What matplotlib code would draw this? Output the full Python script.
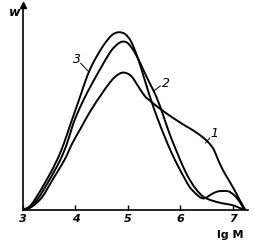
import matplotlib
matplotlib.use("Agg")
import matplotlib.pyplot as plt
from matplotlib.path import Path
from matplotlib.patches import PathPatch

# molecular weight distributions, w vs lg M (w in arbitrary units)
lgm_1 = [3.00, 3.16, 3.36, 3.58, 3.79, 3.94, 4.10, 4.29, 4.50, 4.67, 4.80, 4.92,
         5.06, 5.20, 5.32, 5.44, 5.66, 5.89, 6.10, 6.28, 6.45, 6.56, 6.64, 6.72,
         6.81, 6.92, 7.03, 7.13, 7.24]
w_1 = [0.00, 0.09, 0.38, 0.95, 1.50, 2.00, 2.45, 2.98, 3.48, 3.85, 4.05, 4.12,
       4.02, 3.70, 3.42, 3.25, 2.98, 2.73, 2.52, 2.35, 2.15, 1.98, 1.80, 1.50,
       1.20, 0.90, 0.60, 0.30, 0.00]

lgm_2 = [3.00, 3.14, 3.29, 3.51, 3.71, 3.84, 3.93, 4.01, 4.16, 4.32, 4.48, 4.67,
         4.80, 4.90, 5.00, 5.12, 5.25, 5.40, 5.54, 5.67, 5.79, 5.93, 6.08, 6.20,
         6.31, 6.42, 6.52, 6.65, 6.80, 6.98, 7.10, 7.22]
w_2 = [0.00, 0.10, 0.35, 0.92, 1.50, 2.00, 2.45, 2.80, 3.32, 3.80, 4.25, 4.75,
       4.97, 5.05, 5.00, 4.75, 4.35, 3.85, 3.40, 2.85, 2.30, 1.75, 1.20, 0.85,
       0.60, 0.42, 0.33, 0.26, 0.20, 0.15, 0.08, 0.00]

lgm_3 = [3.00, 3.12, 3.23, 3.45, 3.65, 3.78, 3.90, 4.00, 4.10, 4.22, 4.35, 4.54,
         4.70, 4.83, 4.95, 5.06, 5.19, 5.31, 5.44, 5.57, 5.70, 5.83, 5.96, 6.08,
         6.18, 6.30, 6.40, 6.48, 6.58, 6.70, 6.82, 6.93, 7.04, 7.14, 7.22]
w_3 = [0.00, 0.10, 0.32, 0.90, 1.50, 2.00, 2.55, 3.00, 3.45, 4.00, 4.45, 4.95,
       5.25, 5.33, 5.27, 5.05, 4.55, 3.95, 3.30, 2.72, 2.20, 1.72, 1.30, 0.95,
       0.68, 0.48, 0.36, 0.36, 0.46, 0.55, 0.57, 0.55, 0.42, 0.22, 0.00]

x_ticks = [3, 4, 5, 6, 7]


def smooth_path(xs, ys):
    # cubic bezier through every data point (catmull-rom style tangents)
    pts = list(zip(xs, ys))
    verts = [pts[0]]
    codes = [Path.MOVETO]
    n = len(pts)
    for i in range(n - 1):
        p0 = pts[i - 1] if i > 0 else pts[i]
        p1 = pts[i]
        p2 = pts[i + 1]
        p3 = pts[i + 2] if i + 2 < n else pts[i + 1]
        c1 = (p1[0] + (p2[0] - p0[0]) / 6, p1[1] + (p2[1] - p0[1]) / 6)
        c2 = (p2[0] - (p3[0] - p1[0]) / 6, p2[1] - (p3[1] - p1[1]) / 6)
        verts += [c1, c2, p2]
        codes += [Path.CURVE4] * 3
    return Path(verts, codes)


fig = plt.figure(figsize=(2.54, 2.45), dpi=100)
ax = fig.add_axes([0.0906, 0.143, 0.886, 0.837])

for x, y in [(lgm_1, w_1), (lgm_2, w_2), (lgm_3, w_3)]:
    ax.add_patch(PathPatch(smooth_path(x, y), facecolor="none",
                           edgecolor="black", lw=1.4, joinstyle="round"))

ax.set_xlim(3, 7.29)
ax.set_ylim(0, 6.15)

for s in ["top", "right"]:
    ax.spines[s].set_visible(False)
ax.spines["left"].set_linewidth(1.2)
ax.spines["bottom"].set_linewidth(1.2)

# arrow head on w axis
ax.plot([3], [6.15], marker="^", color="black", markersize=5, clip_on=False)

ax.set_xticks(x_ticks)
ax.set_xticklabels([str(t) for t in x_ticks], fontsize=8, fontweight="bold",
                   style="italic")
ax.tick_params(axis="x", direction="in", length=3.5, width=1, pad=3)
ax.set_yticks([])

fig.text(0.035, 0.975, "w", fontsize=9, fontweight="bold", style="italic",
         ha="left", va="top")
fig.text(0.905, 0.03, "lg M", fontsize=8, fontweight="bold", ha="center")

# curve labels with leader lines
ax.text(4.02, 4.5, "3", fontsize=9, style="italic", ha="center", va="center")
ax.plot([4.10, 4.25], [4.4, 4.15], color="black", lw=0.7)
ax.text(5.72, 3.8, "2", fontsize=9, style="italic", ha="center", va="center")
ax.plot([5.62, 5.50], [3.72, 3.58], color="black", lw=0.7)
ax.text(6.64, 2.28, "1", fontsize=9, style="italic", ha="center", va="center")
ax.plot([6.56, 6.48], [2.16, 2.01], color="black", lw=0.7)

fig.savefig("out.png", dpi=100)
